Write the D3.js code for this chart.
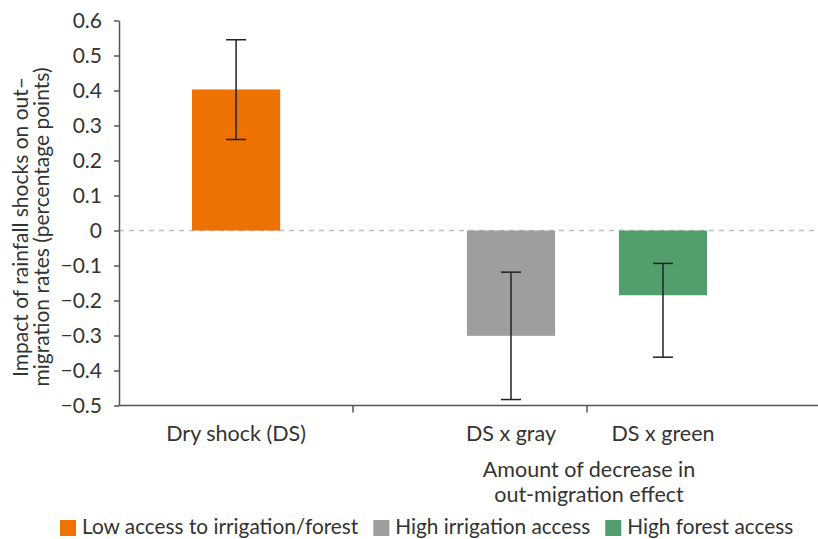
<!DOCTYPE html>
<html>
<head>
<meta charset="utf-8">
<script src="https://cdn.jsdelivr.net/npm/d3@7"></script>
<style>
  html, body { margin: 0; padding: 0; background: #fff; }
  svg { display: block; }
  text { font-family: Lato, "Open Sans", sans-serif; fill: #333; }
</style>
</head>
<body>
<svg id="chart" width="818" height="539"></svg>
<script>
// ---- data ----
const categories = ["Dry shock (DS)", "DS x gray", "DS x green"];
const groupLabel = ["Amount of decrease in", "out-migration effect"];
const seriesNames = ["Low access to irrigation/forest", "High irrigation access", "High forest access"];
const values = [0.403, -0.301, -0.185];
const errLow = [0.260, -0.483, -0.362];
const errHigh = [0.545, -0.119, -0.094];
const yTickValues = [-0.5, -0.4, -0.3, -0.2, -0.1, 0, 0.1, 0.2, 0.3, 0.4, 0.5, 0.6];
const yTickLabels = ["−0.5", "−0.4", "−0.3", "−0.2", "−0.1", "0", "0.1", "0.2", "0.3", "0.4", "0.5", "0.6"];
const yTitle = ["Impact of rainfall shocks on out–", "migration rates (percentage points)"];
const colors = ["#ee7203", "#9e9e9e", "#529e6c"];

(function () {
const FS = "21.5px";
// ---- layout ----
const svg = d3.select("#chart");
const mLeft = 119, mRight = 821, mTop = 20.5, mBottom = 405.5;

const y = d3.scaleLinear().domain([-0.5, 0.6]).range([mBottom, mTop]);

// axis slots (three equal slots with boundary ticks)
const slots = d3.scaleBand().domain(["s0", "s1", "s2"]).range([mLeft, mRight]);
// first group: single bar centred in first slot
const g1 = d3.scaleBand().domain([categories[0]]).range([mLeft, slots("s1")])
  .paddingInner(0.624).paddingOuter(0.312);
// second group: two bars centred on the boundary between slot 1 and 2
const mid = slots("s2");
const g2 = d3.scaleBand().domain([categories[1], categories[2]]).range([mid - 152, mid + 152])
  .paddingInner(0.42).paddingOuter(0.21);
const xPos = c => (c === categories[0] ? g1(c) : g2(c));
const bw = g2.bandwidth();

// zero dashed line
svg.append("line")
  .attr("x1", mLeft).attr("x2", 818)
  .attr("y1", y(0)).attr("y2", y(0))
  .attr("stroke", "#bdbdbd").attr("stroke-width", 1.5)
  .attr("stroke-dasharray", "5,5");

// bars
svg.append("g").selectAll("rect").data(categories).join("rect")
  .attr("x", c => xPos(c))
  .attr("width", bw)
  .attr("y", (c, i) => y(Math.max(0, values[i])))
  .attr("height", (c, i) => Math.abs(y(values[i]) - y(0)))
  .attr("fill", (c, i) => colors[i]);

// error bars
const eg = svg.append("g").attr("stroke", "#222").attr("stroke-width", 1.5);
categories.forEach((c, i) => {
  const cx = xPos(c) + bw / 2;
  eg.append("line").attr("x1", cx).attr("x2", cx).attr("y1", y(errHigh[i])).attr("y2", y(errLow[i]));
  eg.append("line").attr("x1", cx - 10).attr("x2", cx + 10).attr("y1", y(errHigh[i])).attr("y2", y(errHigh[i]));
  eg.append("line").attr("x1", cx - 10).attr("x2", cx + 10).attr("y1", y(errLow[i])).attr("y2", y(errLow[i]));
});

// y axis
const yAxis = d3.axisLeft(y).tickValues(yTickValues)
  .tickFormat((d, i) => yTickLabels[i]).tickSize(5).tickSizeOuter(0).tickPadding(12);
const ya = svg.append("g").attr("transform", `translate(${mLeft},0)`).call(yAxis);
ya.select(".domain").attr("stroke", "#555").attr("stroke-width", 1.5);
ya.selectAll(".tick line").attr("stroke", "#555").attr("stroke-width", 1.5);
ya.selectAll(".tick text").style("font-size", "21px").style("font-family", "Lato, sans-serif").attr("fill", "#333");

// x axis (slot boundaries)
const xa = svg.append("g").attr("transform", `translate(0,${mBottom})`);
xa.append("line").attr("x1", mLeft - 0.75).attr("x2", mRight).attr("y1", 0).attr("y2", 0)
  .attr("stroke", "#555").attr("stroke-width", 1.5);
xa.selectAll("line.tk").data(["s1", "s2"]).join("line").attr("class", "tk")
  .attr("x1", d => slots(d)).attr("x2", d => slots(d)).attr("y1", 0).attr("y2", 7)
  .attr("stroke", "#555").attr("stroke-width", 1.5);

// category labels
svg.append("g").selectAll("text").data(categories).join("text")
  .attr("x", c => xPos(c) + bw / 2)
  .attr("y", 441)
  .attr("text-anchor", "middle")
  .style("font-size", FS)
  .text(c => c);

// group label
svg.append("g").selectAll("text").data(groupLabel).join("text")
  .attr("x", mid + 2)
  .attr("y", (d, i) => 477 + i * 25)
  .attr("text-anchor", "middle")
  .style("font-size", FS)
  .text(d => d);

// y title
const yt = svg.append("text")
  .attr("transform", `translate(0,227) rotate(-90)`)
  .attr("text-anchor", "middle")
  .style("font-size", "21px");
yt.selectAll("tspan").data(yTitle).join("tspan")
  .attr("x", 0).attr("y", (d, i) => 28 + i * 21)
  .text(d => d);

// legend
const legend = svg.append("g").attr("transform", "translate(60,520)");
let lx = 0;
seriesNames.forEach((s, i) => {
  const g = legend.append("g").attr("transform", `translate(${lx},0)`);
  g.append("rect").attr("width", 16).attr("height", 16).attr("fill", colors[i]);
  const t = g.append("text").attr("x", 22).attr("y", 14).style("font-size", "20.8px").text(s);
  lx += 22 + t.node().getComputedTextLength() + 15;
});
})();
</script>
</body>
</html>
